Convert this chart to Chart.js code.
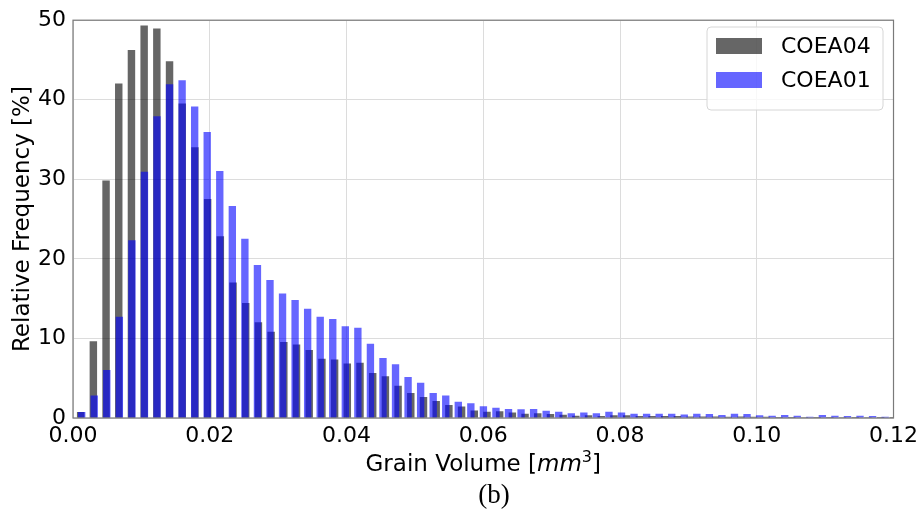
<!DOCTYPE html>
<html>
<head>
<meta charset="utf-8">
<script src="https://cdn.jsdelivr.net/npm/chart.js@4.4.1/dist/chart.umd.min.js"></script>
<style>
  html, body { margin: 0; padding: 0; background: #ffffff; }
  #wrap { width: 923px; height: 516px; }
</style>
</head>
<body>
<div id="wrap"><canvas id="grains" width="923" height="516"></canvas></div>
<script>
// Relative frequency [%] of each grain-volume bin
const coea04Freq = [
  0.7, 9.6, 29.8, 42.0, 46.2, 49.3, 48.9, 44.8, 39.5, 34.0,
  27.5, 22.8, 17.0, 14.4, 12.0, 10.8, 9.5, 9.2, 8.5, 7.4,
  7.3, 6.8, 6.9, 5.6, 5.2, 4.0, 3.1, 2.6, 2.1, 1.6,
  1.4, 0.9, 0.75, 0.8, 0.65, 0.5, 0.55, 0.45, 0.37, 0.25,
  0.3, 0.22, 0.3, 0.3, 0.2, 0.2, 0.22, 0.2, 0.15, 0.15,
  0.15, 0.12, 0.15, 0.12, 0.12, 0.08, 0.08, 0.06, 0.05, 0.08,
  0.06, 0.05, 0.06, 0.05, 0.04
];
const coea01Freq = [
  0.7, 2.8, 6.0, 12.7, 22.3, 30.9, 37.9, 41.9, 42.4, 39.1,
  35.9, 31.0, 26.6, 22.5, 19.2, 17.3, 15.6, 14.8, 13.7, 12.7,
  12.4, 11.5, 11.3, 9.3, 7.5, 6.7, 5.1, 4.4, 3.1, 2.8,
  2.0, 1.8, 1.45, 1.25, 1.1, 1.05, 1.1, 0.87, 0.75, 0.57,
  0.65, 0.57, 0.75, 0.65, 0.5, 0.5, 0.5, 0.5, 0.4, 0.5,
  0.45, 0.35, 0.5, 0.45, 0.3, 0.25, 0.33, 0.25, 0.12, 0.33,
  0.25, 0.2, 0.25, 0.2, 0.12
];

// Histogram bins: centre of the first bin and bin width [mm^3]
const coea04FirstBin = 0.00112;
const coea04BinWidth = 0.001857;
const coea01FirstBin = 0.00127;
const coea01BinWidth = 0.001836;

const seriesNames = ['COEA04', 'COEA01'];
const xTicks = [0, 0.02, 0.04, 0.06, 0.08, 0.10, 0.12];
const yTicks = [0, 10, 20, 30, 40, 50];

const GRAY = 'rgba(0,0,0,0.6)';
const BLUE = 'rgba(0,0,255,0.6)';
const SANS = '"DejaVu Sans", sans-serif';

function toPoints(freq, first, width) {
  return freq.map((y, i) => ({ x: first + i * width, y }));
}

// Axes frame, legend, x-axis title with math text, and panel caption
const decor = {
  id: 'decor',
  afterDatasetsDraw(chart) {
    const { ctx, chartArea: a } = chart;
    ctx.save();
    ctx.strokeStyle = '#7a7a7a';
    ctx.lineWidth = 1.2;
    ctx.strokeRect(a.left, a.top, a.right - a.left, a.bottom - a.top);
    ctx.restore();
  },
  afterDraw(chart) {
    const { ctx, chartArea: a } = chart;
    ctx.save();

    // legend box
    const bx = 707, by = 27, bw = 176, bh = 83, r = 4;
    ctx.beginPath();
    ctx.moveTo(bx + r, by);
    ctx.arcTo(bx + bw, by, bx + bw, by + bh, r);
    ctx.arcTo(bx + bw, by + bh, bx, by + bh, r);
    ctx.arcTo(bx, by + bh, bx, by, r);
    ctx.arcTo(bx, by, bx + bw, by, r);
    ctx.closePath();
    ctx.fillStyle = 'rgba(255,255,255,0.8)';
    ctx.fill();
    ctx.strokeStyle = '#d6d6d6';
    ctx.lineWidth = 1;
    ctx.stroke();

    const swatches = [GRAY, BLUE];
    ctx.font = '22px ' + SANS;
    ctx.textBaseline = 'middle';
    ctx.textAlign = 'left';
    seriesNames.forEach((name, i) => {
      const cy = 46 + i * 34;
      ctx.fillStyle = swatches[i];
      ctx.fillRect(716, cy - 8, 46, 16);
      ctx.fillStyle = '#000';
      ctx.fillText(name, 781, cy + 1);
    });

    // x-axis title: Grain Volume [mm^3]
    const parts = [
      { t: 'Grain Volume [', f: '23px ' + SANS, dy: 0 },
      { t: 'mm', f: 'italic 23px ' + SANS, dy: 0 },
      { t: '3', f: '16px ' + SANS, dy: -9 },
      { t: ']', f: '23px ' + SANS, dy: 0 }
    ];
    let total = 0;
    parts.forEach(p => { ctx.font = p.f; p.w = ctx.measureText(p.t).width; total += p.w; });
    let x = (a.left + a.right) / 2 - total / 2;
    ctx.textBaseline = 'alphabetic';
    ctx.fillStyle = '#000';
    parts.forEach(p => { ctx.font = p.f; ctx.fillText(p.t, x, 471 + p.dy); x += p.w; });

    // caption
    ctx.font = '27px "Liberation Serif", "Times New Roman", serif';
    ctx.textAlign = 'center';
    ctx.fillText('(b)', 494, 503);
    ctx.restore();
  }
};

new Chart(document.getElementById('grains'), {
  type: 'bar',
  data: {
    datasets: [
      {
        label: seriesNames[1],
        data: toPoints(coea01Freq, coea01FirstBin, coea01BinWidth),
        backgroundColor: BLUE,
        borderWidth: 0,
        barThickness: 6.7,
        grouped: false
      },
      {
        label: seriesNames[0],
        data: toPoints(coea04Freq, coea04FirstBin, coea04BinWidth),
        backgroundColor: GRAY,
        borderWidth: 0,
        barThickness: 6.8,
        grouped: false
      }
    ]
  },
  options: {
    responsive: false,
    devicePixelRatio: 1,
    animation: false,
    layout: { padding: { left: 0, right: 28, top: 15, bottom: 0 } },
    plugins: {
      legend: { display: false },
      tooltip: { enabled: false }
    },
    scales: {
      x: {
        type: 'linear',
        min: 0,
        max: 0.12,
        offset: false,
        grid: { offset: false, color: '#dcdcdc', lineWidth: 1, drawTicks: false },
        border: { display: false },
        afterBuildTicks: s => { s.ticks = xTicks.map(v => ({ value: v })); },
        afterFit: s => { s.height = 98; },
        ticks: {
          autoSkip: false,
          maxRotation: 0,
          padding: 5,
          color: '#000',
          font: { family: SANS, size: 22 },
          callback: v => Number(v).toFixed(2)
        }
      },
      y: {
        min: 0,
        max: 50,
        grid: { color: '#dcdcdc', lineWidth: 1, drawTicks: false },
        border: { display: false },
        afterBuildTicks: s => { s.ticks = yTicks.map(v => ({ value: v })); },
        afterFit: s => { s.width = 73; },
        ticks: {
          padding: 7,
          color: '#000',
          font: { family: SANS, size: 22 }
        },
        title: {
          display: true,
          text: 'Relative Frequency [%]',
          color: '#000',
          font: { family: SANS, size: 23 },
          padding: { top: 9, bottom: 0 }
        }
      }
    }
  },
  plugins: [decor]
});
</script>
</body>
</html>
